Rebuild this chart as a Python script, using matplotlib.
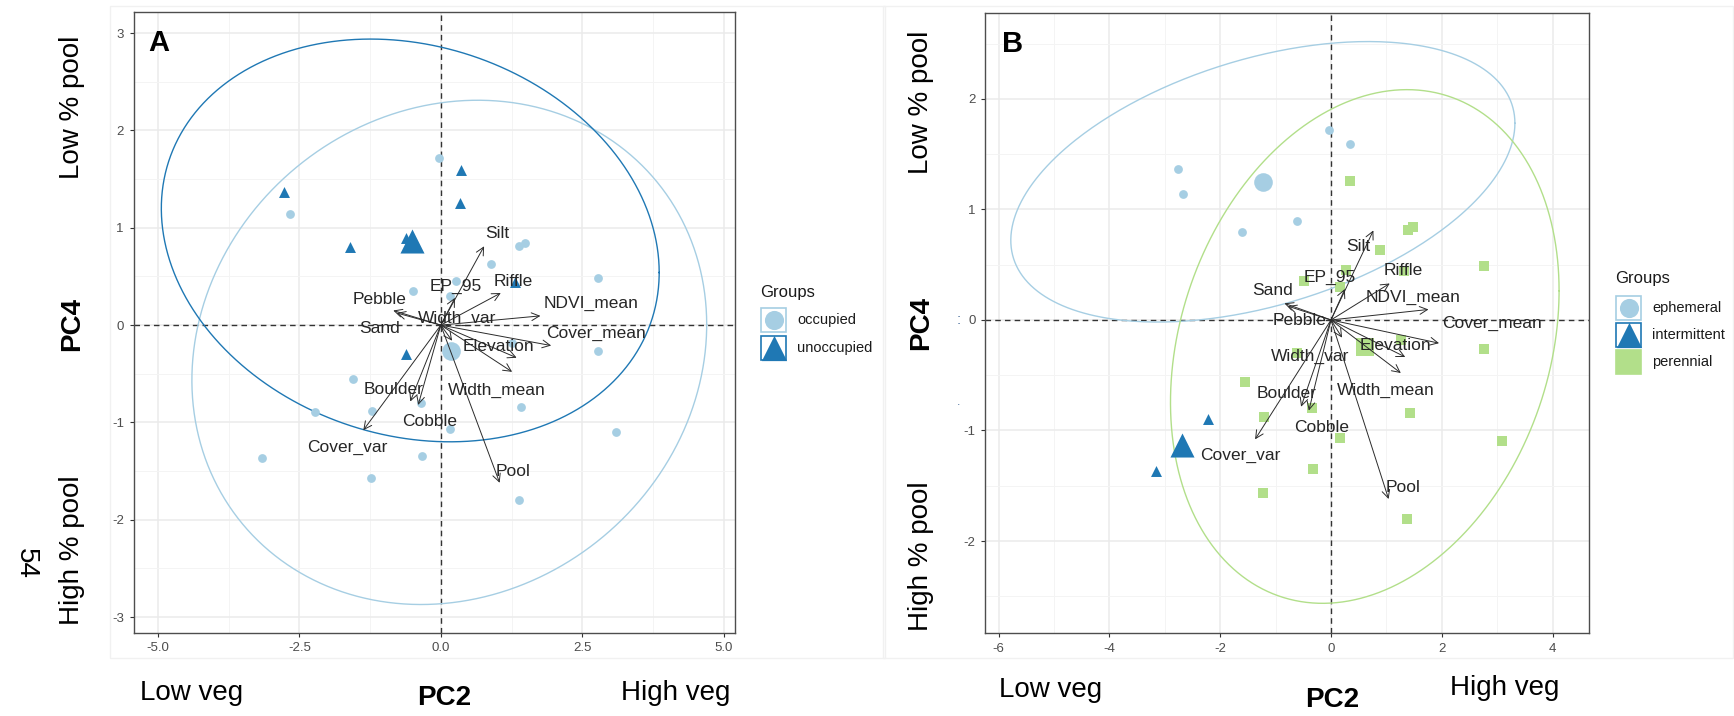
import numpy as np
import matplotlib
matplotlib.use("Agg")
import matplotlib.pyplot as plt
from matplotlib.patches import Rectangle

plt.rcParams['font.family'] = ['Liberation Sans', 'DejaVu Sans']
plt.rcParams['axes.unicode_minus'] = False

# ---------------- data ----------------
# site scores on PC2 / PC4
site_pc2 = [-0.03, 0.35, -2.77, -2.67, -0.62, -1.61,
            -2.22, -3.16,
            0.34, 1.385, 1.48, 0.89, 2.77, 0.265, -0.49, 0.155, 1.31, 2.77, 1.26,
            -0.62, -1.555, -0.35, -1.21, 1.42, 0.17, 3.09, -0.33, -1.23, 1.38]
site_pc4 = [1.716, 1.596, 1.37, 1.138, 0.894, 0.798,
            -0.897, -1.37,
            1.256, 0.813, 0.843, 0.632, 0.488, 0.452, 0.352, 0.295, 0.445, -0.265, -0.18,
            -0.30, -0.557, -0.80, -0.88, -0.843, -1.069, -1.099, -1.346, -1.566, -1.80]
site_flow = ['ephemeral'] * 6 + ['intermittent'] * 2 + ['perennial'] * 21
site_occupancy = ['occupied', 'unoccupied', 'unoccupied', 'occupied', 'unoccupied', 'unoccupied',
                  'occupied', 'occupied',
                  'unoccupied', 'occupied', 'occupied', 'occupied', 'occupied', 'occupied',
                  'occupied', 'occupied', 'unoccupied', 'occupied', 'occupied',
                  'unoccupied', 'occupied', 'occupied', 'occupied', 'occupied', 'occupied',
                  'occupied', 'occupied', 'occupied', 'occupied']

# variable loadings (arrows)
var_names = ['Silt', 'Riffle', 'EP_95', 'NDVI_mean', 'Pebble', 'Sand', 'Width_var',
             'Cover_mean', 'Elevation', 'Width_mean', 'Pool', 'Cover_var', 'Boulder', 'Cobble']
load_pc2 = [0.765, 1.06, 0.25, 1.76, -0.84, -0.78, 0.20, 1.95, 1.34, 1.26, 1.04, -1.37, -0.54, -0.40]
load_pc4 = [0.81, 0.33, 0.28, 0.095, 0.15, 0.125, -0.16, -0.21, -0.335, -0.48, -1.62, -1.08, -0.785, -0.82]

# label positions (repelled) in panel A and panel B
labA_pc2 = [1.0, 1.284, 0.27, 2.66, -1.086, -1.086, 0.283, 2.74, 1.02, 0.99, 1.284, -1.66, -0.838, -0.2]
labA_pc4 = [0.942, 0.452, 0.40, 0.223, 0.267, -0.034, 0.069, -0.086, -0.223, -0.668, -1.507, -1.257, -0.661, -0.99]
labB_pc2 = [0.49, 1.305, -0.02, 1.486, -0.56, -1.06, -0.38, 2.9, 1.155, 0.99, 1.305, -1.64, -0.81, -0.17]
labB_pc4 = [0.662, 0.443, 0.385, 0.205, -0.006, 0.265, -0.331, -0.03, -0.235, -0.638, -1.52, -1.226, -0.663, -0.973]

# concentration ellipses: centre and covariance (pc2 var, pc4 var, covariance)
ellA_groups = ['occupied', 'unoccupied']
ellA_center = [(0.15, -0.28), (-0.54, 0.87)]
ellA_cov = [(20.7, 6.71, 1.3), (19.36, 4.28, -1.45)]
ellB_groups = ['ephemeral', 'perennial']
ellB_center = [(-1.23, 1.25), (0.61, -0.24)]
ellB_cov = [(20.7, 1.61, 2.41), (12.3, 5.4, 1.77)]

groupsA = ['occupied', 'unoccupied']
groupsB = ['ephemeral', 'intermittent', 'perennial']

xticksA = [-5.0, -2.5, 0.0, 2.5, 5.0]
xticklabelsA = ['-5.0', '-2.5', '0.0', '2.5', '5.0']
yticksA = [-3, -2, -1, 0, 1, 2, 3]
xticksB = [-6, -4, -2, 0, 2, 4]
yticksB = [-2, -1, 0, 1, 2]

# ---------------- styles ----------------
COL = {'occupied': '#A6CEE3', 'unoccupied': '#1F78B4',
       'ephemeral': '#A6CEE3', 'intermittent': '#1F78B4', 'perennial': '#B2DF8A'}
MARK = {'occupied': 'o', 'unoccupied': '^', 'ephemeral': 'o', 'intermittent': '^', 'perennial': 's'}
SMALL = {'o': 40, '^': 62, 's': 52}
BIG = {'o': 180, '^': 300, 's': 165}

W, H = 1734, 716
fig = plt.figure(figsize=(W / 100, H / 100), dpi=100)

ov = fig.add_axes([0, 0, 1, 1], zorder=-5)
ov.set_xlim(0, W)
ov.set_ylim(H, 0)
ov.axis('off')

# faint ggplot background edges
ov.add_patch(Rectangle((110, 6), 775, 652, fill=False, edgecolor='#F1F1F1', lw=1))
ov.add_patch(Rectangle((883, 6), 850, 652, fill=False, edgecolor='#F1F1F1', lw=1))


def fig_axes(left, top, right, bottom):
    return fig.add_axes([left / W, 1 - bottom / H, (right - left) / W, (bottom - top) / H], zorder=1)


def style(ax, xlim, ylim, xt, yt, xtl=None):
    ax.set_xlim(xlim)
    ax.set_ylim(ylim)
    ax.set_xticks(xt)
    if xtl is not None:
        ax.set_xticklabels(xtl)
    ax.set_yticks(yt)
    xs = np.array(xt, dtype=float)
    ys = np.array(yt, dtype=float)
    dx = xs[1] - xs[0]
    dy = ys[1] - ys[0]
    xm = np.concatenate([xs - dx / 2, [xs[-1] + dx / 2]])
    ym = np.concatenate([ys - dy / 2, [ys[-1] + dy / 2]])
    ax.set_xticks(xm, minor=True)
    ax.set_yticks(ym, minor=True)
    ax.grid(which='major', color='#EBEBEB', linewidth=1.1)
    ax.grid(which='minor', color='#F4F4F4', linewidth=0.7)
    ax.set_axisbelow(True)
    ax.tick_params(which='minor', length=0)
    ax.tick_params(which='major', length=3, width=0.8, color='#333333',
                   labelsize=9.5, labelcolor='#4D4D4D', pad=4)
    for s in ax.spines.values():
        s.set_color('#4D4D4D')
        s.set_linewidth(1.0)
    ax.axhline(0, color='#333333', lw=1.0, ls=(0, (4, 3)), zorder=2)
    ax.axvline(0, color='#333333', lw=1.0, ls=(0, (4, 3)), zorder=2)
    ax.set_xlim(xlim)
    ax.set_ylim(ylim)


def draw_ellipse(ax, center, cov, color):
    sxx, syy, sxy = cov
    S = np.array([[sxx, sxy], [sxy, syy]])
    L = np.linalg.cholesky(S)
    t = np.linspace(0, 2 * np.pi, 400)
    pts = L @ np.vstack([np.cos(t), np.sin(t)])
    ax.plot(center[0] + pts[0], center[1] + pts[1], color=color, lw=1.0, zorder=3)


def draw_points(ax, groups, labels):
    x = np.array(site_pc2)
    y = np.array(site_pc4)
    lab = np.array(labels)
    for g in groups:
        m = lab == g
        mk = MARK[g]
        ax.scatter(x[m], y[m], s=SMALL[mk], marker=mk, color=COL[g], linewidths=0, zorder=4)
    for g in groups:
        m = lab == g
        mk = MARK[g]
        ax.scatter([x[m].mean()], [y[m].mean()], s=BIG[mk], marker=mk, color=COL[g],
                   linewidths=0, zorder=4)


def draw_arrows(ax, lx, ly):
    for i, name in enumerate(var_names):
        ax.annotate('', xy=(load_pc2[i], load_pc4[i]), xytext=(0, 0),
                    arrowprops=dict(arrowstyle='->,head_length=0.4,head_width=0.2',
                                    color='#2b2b2b', lw=0.7, shrinkA=0, shrinkB=0,
                                    mutation_scale=14), zorder=5)
        ax.text(lx[i], ly[i], name, fontsize=12.5, color='#262626', ha='center',
                va='center', zorder=6)


# ---------------- panel A ----------------
axA = fig_axes(133.6, 11.7, 735, 632.7)
style(axA, (-5.43, 5.20), (-3.16, 3.22), xticksA, yticksA, xticklabelsA)
draw_points(axA, groupsA, site_occupancy)
for g, c, cv in zip(ellA_groups, ellA_center, ellA_cov):
    draw_ellipse(axA, c, cv, COL[g])
draw_arrows(axA, labA_pc2, labA_pc4)
axA.set_xlim(-5.43, 5.20)
axA.set_ylim(-3.16, 3.22)
axA.text(159 / W, 1 - 43 / H, 'A', transform=fig.transFigure, fontsize=21,
         fontweight='bold', ha='center', va='center')

# ---------------- panel B ----------------
axB = fig_axes(985.3, 12.7, 1588.6, 633.3)
style(axB, (-6.24, 4.65), (-2.835, 2.78), xticksB, yticksB)
draw_points(axB, groupsB, site_flow)
for g, c, cv in zip(ellB_groups, ellB_center, ellB_cov):
    draw_ellipse(axB, c, cv, COL[g])
draw_arrows(axB, labB_pc2, labB_pc4)
axB.set_xlim(-6.24, 4.65)
axB.set_ylim(-2.835, 2.78)
axB.text(1013 / W, 1 - 43.5 / H, 'B', transform=fig.transFigure, fontsize=21,
         fontweight='bold', ha='center', va='center')

# ---------------- outer annotations ----------------
big = dict(fontsize=20, color='black', ha='center', va='center')
ov.text(72, 107, 'Low % pool', rotation=90, **big)
ov.text(72, 324, 'PC4', rotation=90, fontweight='bold', **big)
ov.text(72, 550, 'High % pool', rotation=90, **big)
ov.text(26, 563, '54', rotation=-90, **big)
ov.text(192, 693, 'Low veg', **big)
ov.text(444, 698, 'PC2', fontweight='bold', **big)
ov.text(676, 693, 'High veg', **big)

ov.text(921, 102, 'Low % pool', rotation=90, **big)
ov.text(921, 323, 'PC4', rotation=90, fontweight='bold', **big)
ov.text(921, 556, 'High % pool', rotation=90, **big)
ov.text(1051, 690, 'Low veg', **big)
ov.text(1332, 700, 'PC2', fontweight='bold', **big)
ov.text(1505, 688, 'High veg', **big)
ov.text(959, 320, ':', fontsize=11, color='#4F73A0', ha='center', va='center')
ov.text(959, 402, '.', fontsize=9, color='#4F73A0', ha='center', va='center')

# ---------------- legends ----------------
def legend(x0, y_title, ys, groups, with_box_fill):
    ov.text(x0, y_title, 'Groups', fontsize=12, color='#1a1a1a', ha='left', va='center')
    for yk, g in zip(ys, groups):
        mk = MARK[g]
        if g in with_box_fill:
            ov.add_patch(Rectangle((x0 + 1, yk - 12), 25, 24, facecolor=COL[g],
                                   edgecolor=COL[g], lw=1.2))
        else:
            ov.add_patch(Rectangle((x0 + 1, yk - 12), 25, 24, facecolor='white',
                                   edgecolor=COL[g], lw=1.2))
            size = {'o': 190, '^': 330, 's': 170}[mk]
            ov.scatter([x0 + 13.5], [yk], s=size, marker=mk, color=COL[g], linewidths=0)
        ov.text(x0 + 37, yk, g, fontsize=10.5, color='#1a1a1a', ha='left', va='center')


legend(760, 292, [320, 348], groupsA, [])
legend(1615, 279, [308, 335, 362], groupsB, ['perennial'])

fig.savefig('out.png', dpi=100)
